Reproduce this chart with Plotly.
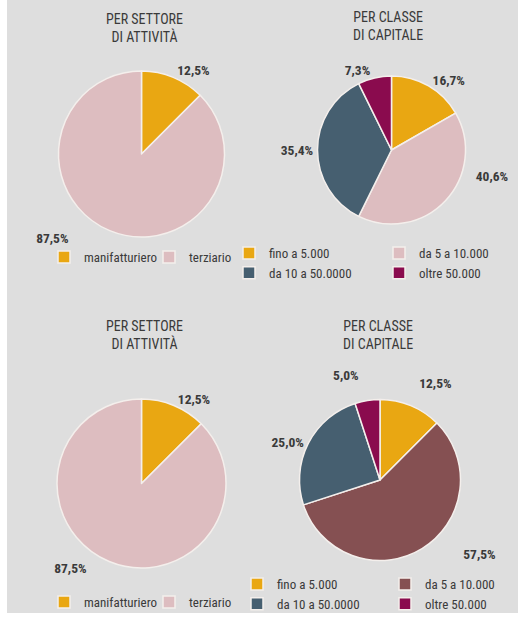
import plotly.graph_objects as go

# ---------------- data ----------------
sector_labels = ["manifatturiero", "terziario"]
sector_top = [12.5, 87.5]
sector_bottom = [12.5, 87.5]

capital_labels = ["fino a 5.000", "da 5 a 10.000", "da 10 a 50.0000", "oltre 50.000"]
capital_top = [16.7, 40.6, 35.4, 7.3]
capital_bottom = [12.5, 57.5, 25.0, 5.0]

title_sector = "PER SETTORE<br>DI ATTIVITÀ"
title_capital = "PER CLASSE<br>DI CAPITALE"

# ---------------- styles ----------------
W, H = 528, 618
ML, MR = 50, 58
PW = W - ML - MR

ORANGE = "#E9A712"
PINK = "#DDBDC0"
SLATE = "#465F70"
MAGENTA = "#8A0B4E"
BROWN = "#855052"
BG = "#DEDEDE"
TXT = "#3a3a3a"
FONT = "Roboto Condensed, Roboto, sans-serif"
ZW = "\u200b"  # keeps legend entries of the lower pies distinct from the upper ones
NB = "\u00a0"

# label nudges (style only): (leading spaces, trailing spaces, extra blank lines)
nudge_sector_top = [(0, 0, 0), (0, 12, 0)]
nudge_capital_top = [(0, 0, 0), (0, 0, 6), (0, 0, 0), (0, 0, 0)]
nudge_sector_bottom = [(0, 0, 0), (0, 6, 0)]
nudge_capital_bottom = [(0, 0, 1), (12, 0, 0), (0, 0, 0), (0, 0, 1)]


def fx(px):
    return (px - ML) / PW


def fy(py):
    return 1 - py / H


def dom(cx, cy, r):
    return dict(x=[fx(cx - r), fx(cx + r)], y=[fy(cy + r), fy(cy - r)])


def templates(nudges):
    return [NB * a + "<b>%{value:.1f}%</b>" + NB * b + ("<br>" + NB) * c for a, b, c in nudges]


def pie(labels, values, colors, domain, legend, nudges):
    return go.Pie(
        labels=labels, values=values, domain=domain, legend=legend,
        sort=False, direction="clockwise", rotation=0,
        marker=dict(colors=colors, line=dict(color="#f4efec", width=1.5)),
        textposition="outside", texttemplate=templates(nudges), automargin=False,
        textfont=dict(size=13.5, color=TXT, family=FONT),
        showlegend=True, hoverinfo="label+value",
    )


fig = go.Figure()
fig.add_trace(pie(sector_labels, sector_top, [ORANGE, PINK], dom(141.5, 154, 83), "legend",
                  nudge_sector_top))
fig.add_trace(pie(capital_labels, capital_top, [ORANGE, PINK, SLATE, MAGENTA], dom(391.5, 150, 74),
                  "legend2", nudge_capital_top))
fig.add_trace(pie([l + ZW for l in sector_labels], sector_bottom, [ORANGE, PINK],
                  dom(141.5, 483.5, 84.5), "legend3", nudge_sector_bottom))
fig.add_trace(pie([l + ZW for l in capital_labels], capital_bottom, [ORANGE, BROWN, SLATE, MAGENTA],
                  dom(380, 480, 80.5), "legend4", nudge_capital_bottom))

leg_common = dict(orientation="h", xanchor="left", bgcolor="rgba(0,0,0,0)",
                  font=dict(size=13, color=TXT, family=FONT), traceorder="normal",
                  itemclick=False, itemdoubleclick=False)

title_font = dict(size=14, color=TXT, family=FONT)


def title(text, cx, cy):
    return dict(text=text, x=fx(cx), y=fy(cy), xanchor="center", yanchor="middle",
                xref="paper", yref="paper", showarrow=False, font=title_font, align="center")


fig.update_layout(
    width=W, height=H,
    margin=dict(l=ML, r=MR, t=0, b=0, pad=0, autoexpand=False),
    paper_bgcolor="white", plot_bgcolor="rgba(0,0,0,0)",
    separators=",.",
    font=dict(family=FONT, color=TXT),
    legend=dict(x=fx(44), y=fy(242), yanchor="top", entrywidth=60, **leg_common),
    legend2=dict(x=fx(229), y=fy(238), yanchor="top", entrywidth=105, **leg_common),
    legend3=dict(x=fx(44), y=fy(617), yanchor="bottom", entrywidth=60, **leg_common),
    legend4=dict(x=fx(237), y=fy(619), yanchor="bottom", entrywidth=103, **leg_common),
    shapes=[dict(type="rect", xref="paper", yref="paper", layer="below",
                 x0=fx(7), x1=fx(518), y0=fy(613), y1=fy(0),
                 fillcolor=BG, line=dict(width=0))],
    annotations=[
        title(title_sector, 144, 28),
        title(title_capital, 388, 26),
        title(title_sector, 144, 335),
        title(title_capital, 378, 335),
    ],
)

fig.write_html("out.html", config={"displayModeBar": False},
               post_script="document.body.style.margin='0';")
